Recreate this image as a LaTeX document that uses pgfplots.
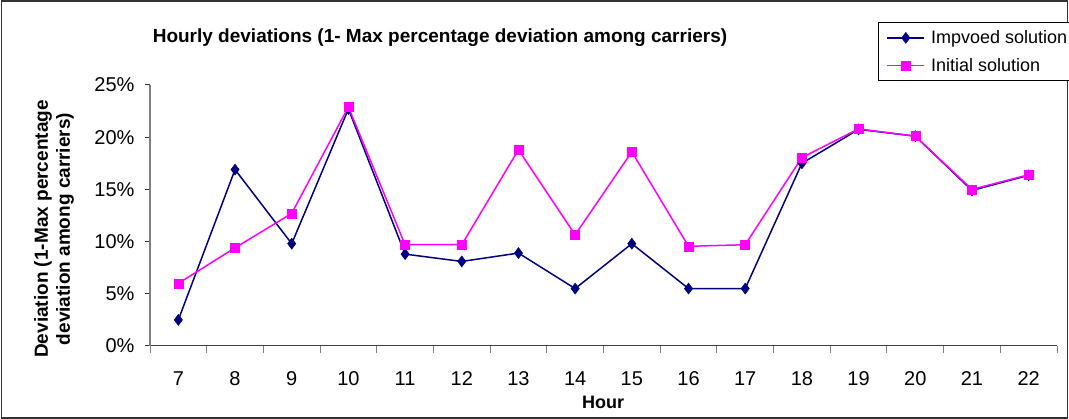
\documentclass[border=0pt]{standalone}
\usepackage{fontspec}
\setmainfont{Liberation Sans}
\usepackage{pgfplots}
\pgfplotsset{compat=1.18}
\definecolor{navyc}{HTML}{000080}
\definecolor{magc}{HTML}{FF00FF}
\begin{document}
\begin{tikzpicture}
\useasboundingbox (0pt,0pt) rectangle (1069pt,-419pt);
\draw[line width=1.5pt, black!80] (1.5pt,-1pt) rectangle (1067.5pt,-418pt);
\node[font=\bfseries\fontsize{19}{22}\selectfont] at (440pt,-38pt) {Hourly deviations (1- Max percentage deviation among carriers)};
\node[font=\bfseries\fontsize{19}{22}\selectfont, rotate=90, align=center] at (54pt,-229pt) {Deviation (1-Max percentage\\deviation among carriers)};
\node[font=\bfseries\fontsize{18}{21}\selectfont] at (603pt,-402pt) {Hour};
\begin{axis}[
  at={(150pt,-346pt)}, anchor=south west, scale only axis,
  width=907pt, height=261pt,
  xmin=-0.5, xmax=15.5, ymin=0, ymax=25,
  axis x line*=bottom, axis y line*=left, axis line style={-},
  separate axis lines,
  x axis line style={draw=black!75, line width=1pt},
  y axis line style={draw=gray, line width=1.5pt},
  xtick={0,1,2,3,4,5,6,7,8,9,10,11,12,13,14,15},
  xticklabels={7,8,9,10,11,12,13,14,15,16,17,18,19,20,21,22},
  major x tick style={draw=none},
  minor xtick={-0.5,0.5,...,15.5},
  minor x tick style={draw=gray, line width=1pt},
  minor tick length=7pt,
  ytick={0,5,10,15,20,25}, major tick length=5pt,
  y tick style={draw=black!80, line width=1pt},
  tick align=outside,
  yticklabel={\pgfmathprintnumber{\tick}\%},
  ticklabel style={font=\fontsize{20}{24}\selectfont},
  /pgf/number format/assume math mode=true,
  xticklabel style={yshift=-17pt},
  yticklabel style={xshift=-7pt},
  legend style={at={(0.8027,1.241)}, anchor=north west, draw=black, line width=1pt,
    font=\fontsize{18}{21}\selectfont, inner xsep=8pt, inner ysep=5pt,
    row sep=7pt, nodes={inner xsep=0pt, inner ysep=3pt}},
  legend cell align=left,
  legend image code/.code={\draw[mark repeat=2,mark phase=2,#1] plot coordinates {(0pt,0pt)(18.5pt,0pt)(37pt,0pt)};},
]
\addplot[navyc, line width=1.5pt, mark=diamond*, mark size=5.5pt, mark options={fill=navyc, line width=0.5pt}] coordinates {
(0,2.5) (1,16.9) (2,9.8) (3,22.7) (4,8.8) (5,8.1) (6,8.9) (7,5.5)
(8,9.8) (9,5.5) (10,5.5) (11,17.5) (12,20.75) (13,20.1) (14,14.9) (15,16.35)};
\addlegendentry{\hspace*{6pt}Impvoed solution}
\addplot[magc, line width=1.5pt, mark=square*, mark size=4.5pt, mark options={fill=magc, line width=0.5pt}] coordinates {
(0,6.0) (1,9.4) (2,12.7) (3,22.9) (4,9.7) (5,9.7) (6,18.8) (7,10.65)
(8,18.6) (9,9.55) (10,9.7) (11,18.05) (12,20.8) (13,20.1) (14,15.0) (15,16.4)};
\addlegendentry{\hspace*{6pt}Initial solution}
\end{axis}
\end{tikzpicture}
\end{document}
